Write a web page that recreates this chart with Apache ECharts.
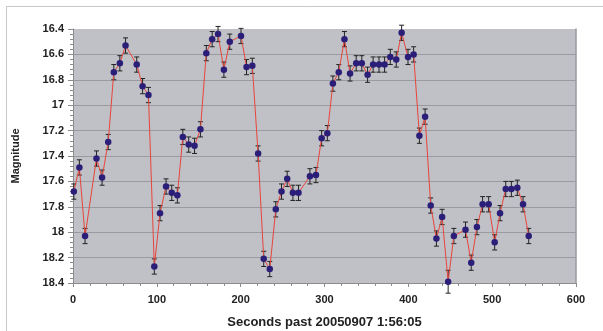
<!DOCTYPE html>
<html>
<head>
<meta charset="utf-8">
<script src="https://cdn.jsdelivr.net/npm/echarts@6/dist/echarts.min.js"></script>
<style>
html,body{margin:0;padding:0;background:#fff;}
#c{width:603px;height:331px;}
</style>
</head>
<body>
<div id="c"></div>
<script>
var seconds = [1, 7.6, 14.4, 28, 34.7, 42, 48.7, 55.9, 62.7, 76, 83, 90, 97, 103.8, 111, 117.8, 124.5, 131, 138, 145, 152, 159, 166, 173, 180, 187, 200.4,
  207, 213.9, 220.8, 227.5, 234.7, 241.9, 248.7, 255.5, 262.3, 269, 282.6, 289.8, 296.6, 303.4, 310, 317, 323.8, 330.5, 337.8, 344.5, 351.4, 358, 365,
  371.7, 378.5, 385.6, 392, 399.6, 406.3, 413.2, 420, 426.7, 433.5, 440.3, 447.5, 454.3, 468.2, 475, 481.8, 488.6, 495.8, 503, 509.4, 516.2, 522.9, 530, 536.8, 543.6];
var magnitude = [17.68, 17.49, 18.03, 17.42, 17.57, 17.29, 16.74, 16.67, 16.53, 16.68, 16.85, 16.92, 18.27, 17.85, 17.64, 17.69, 17.71, 17.25, 17.31, 17.32, 17.19, 16.59, 16.48, 16.44, 16.72, 16.50, 16.455,
  16.70, 16.69, 17.38, 18.21, 18.29, 17.82, 17.68, 17.58, 17.69, 17.69, 17.56, 17.55, 17.26, 17.22, 16.83, 16.74, 16.48, 16.75, 16.67, 16.67, 16.76, 16.68, 16.68,
  16.68, 16.62, 16.64, 16.43, 16.62, 16.60, 17.24, 17.09, 17.79, 18.05, 17.88, 18.39, 18.03, 17.98, 18.24, 17.96, 17.78, 17.78, 18.08, 17.85, 17.66, 17.66, 17.65, 17.78, 18.03];
var errors = [0.06, 0.06, 0.06, 0.06, 0.06, 0.06, 0.06, 0.06, 0.06, 0.06, 0.06, 0.06, 0.06, 0.06, 0.06, 0.06, 0.06, 0.06, 0.06, 0.06, 0.06, 0.06, 0.06, 0.06, 0.06, 0.06, 0.06,
  0.06, 0.06, 0.06, 0.06, 0.06, 0.06, 0.06, 0.06, 0.06, 0.06, 0.06, 0.06, 0.06, 0.06, 0.06, 0.06, 0.06, 0.06, 0.06, 0.06, 0.06, 0.06, 0.06,
  0.06, 0.06, 0.06, 0.06, 0.06, 0.06, 0.06, 0.06, 0.06, 0.06, 0.06, 0.09, 0.06, 0.06, 0.06, 0.06, 0.06, 0.06, 0.06, 0.06, 0.06, 0.06, 0.06, 0.06, 0.06];
var xTitle = 'Seconds past 20050907 1:56:05';
var yTitle = 'Magnitude';

var pts = seconds.map(function (s, i) { return [s, magnitude[i]]; });
var errData = seconds.map(function (s, i) { return [s, magnitude[i] - errors[i], magnitude[i] + errors[i]]; });

var font = 'Liberation Sans, Arial, sans-serif';
var chart = echarts.init(document.getElementById('c'), null, {renderer: 'canvas'});
chart.setOption({
  animation: false,
  backgroundColor: '#ffffff',
  graphic: [{
    type: 'rect', left: 4, top: 4, z: -10,
    shape: {width: 598, height: 325},
    style: {fill: 'none', stroke: '#c8c8c8', lineWidth: 1}
  }],
  grid: {
    left: 73, top: 29, right: 27, bottom: 48,
    containLabel: false, outerBoundsMode: 'none',
    show: true, backgroundColor: '#c0c0c7', borderWidth: 0
  },
  xAxis: {
    type: 'value', min: 0, max: 600, interval: 100,
    name: xTitle, nameLocation: 'middle', nameGap: 33,
    nameTextStyle: {fontFamily: font, fontWeight: 'bold', fontSize: 13, color: '#222'},
    axisLine: {show: true, lineStyle: {color: '#8c8c8c', width: 1}},
    axisTick: {show: true, length: 4, lineStyle: {color: '#8c8c8c'}},
    minorTick: {show: true, splitNumber: 5, length: 3, lineStyle: {color: '#8c8c8c'}},
    axisLabel: {fontFamily: font, fontWeight: 'bold', fontSize: 11, color: '#222', margin: 11},
    splitLine: {show: false}
  },
  yAxis: [{
    type: 'value', inverse: true, min: 16.4, max: 18.4, interval: 0.2,
    name: yTitle, nameLocation: 'middle', nameGap: 52, nameRotate: 90,
    nameTextStyle: {fontFamily: font, fontWeight: 'bold', fontSize: 11, color: '#222'},
    axisLine: {show: true, lineStyle: {color: '#8c8c8c', width: 1}},
    axisTick: {show: true, length: 5, lineStyle: {color: '#8c8c8c'}},
    minorTick: {show: true, splitNumber: 5, length: 3, lineStyle: {color: '#8c8c8c'}},
    axisLabel: {fontFamily: font, fontWeight: 'bold', fontSize: 11, color: '#222', margin: 9},
    splitLine: {show: true, showMinLine: false, showMaxLine: false, lineStyle: {color: '#9a9aa0', width: 1}}
  }, {
    type: 'value', inverse: true, min: 16.4, max: 18.4, position: 'right',
    axisLine: {show: true, lineStyle: {color: '#9a9aa2', width: 1.5}},
    axisTick: {show: false}, axisLabel: {show: false}, splitLine: {show: false}
  }],
  series: [{
    type: 'custom',
    z: 1,
    data: errData,
    renderItem: function (params, api) {
      var x = api.value(0);
      var lo = api.coord([x, api.value(1)]);
      var hi = api.coord([x, api.value(2)]);
      var cap = 2.5;
      var style = {stroke: '#222', lineWidth: 1};
      return {
        type: 'group',
        children: [
          {type: 'line', shape: {x1: lo[0], y1: lo[1], x2: hi[0], y2: hi[1]}, style: style},
          {type: 'line', shape: {x1: lo[0] - cap, y1: lo[1], x2: lo[0] + cap, y2: lo[1]}, style: style},
          {type: 'line', shape: {x1: hi[0] - cap, y1: hi[1], x2: hi[0] + cap, y2: hi[1]}, style: style}
        ]
      };
    }
  }, {
    type: 'line',
    z: 2,
    data: pts,
    symbol: 'circle',
    symbolSize: 6.5,
    clip: false,
    itemStyle: {color: '#2a1e78', borderWidth: 0},
    lineStyle: {color: '#e8453c', width: 1}
  }]
});
</script>
</body>
</html>
